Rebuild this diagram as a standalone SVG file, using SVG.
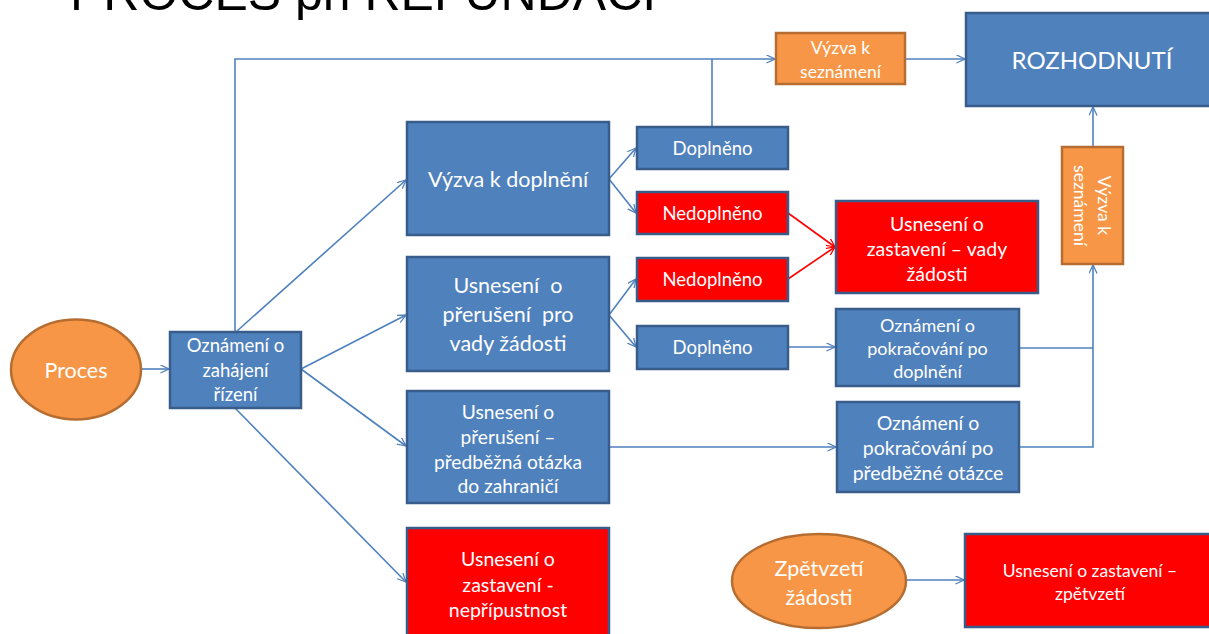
<svg xmlns="http://www.w3.org/2000/svg" width="1209" height="634" viewBox="0 0 1209 634">
  <defs>
    <marker id="arr" viewBox="0 0 10 10" refX="9.5" refY="5" markerWidth="9" markerHeight="9" markerUnits="userSpaceOnUse" orient="auto">
      <path d="M0,0.5 L9.5,5 L0,9.5" fill="none" stroke="#4F81BD" stroke-width="1.4"/>
    </marker>
    <marker id="arrRed" viewBox="0 0 10 10" refX="9.5" refY="5" markerWidth="9" markerHeight="9" markerUnits="userSpaceOnUse" orient="auto">
      <path d="M0,0.5 L9.5,5 L0,9.5" fill="none" stroke="#FF0000" stroke-width="1.4"/>
    </marker>
    <style>
      .blue { fill: #4F81BD; stroke: #385D8A; stroke-width: 2.5; }
      .red { fill: #FF0000; stroke: #385D8A; stroke-width: 2.5; }
      .orange { fill: #F79646; stroke: #B66D31; stroke-width: 2.5; }
      .t { fill: #FFFFFF; font-family: Lato, "Open Sans", "DejaVu Sans", sans-serif; text-anchor: middle; dominant-baseline: central; }
      .c { fill: none; stroke: #4F81BD; stroke-width: 1.6; }
      .cm { fill: none; stroke: #4F81BD; stroke-width: 1.6; marker-end: url(#arr); }
      .cr { fill: none; stroke: #FF0000; stroke-width: 1.6; marker-end: url(#arrRed); }
      .title { fill: #000000; font-family: "Liberation Sans", Arial, sans-serif; font-size: 50px; }
    </style>
  </defs>

  <rect width="1209" height="634" fill="#FFFFFF"/>

  <text class="title" x="70" y="10">PROCES při REFUNDACI</text>

  <!-- connectors -->
  <g id="connectors">
    <path class="cm" d="M141,369 L169,369"/>
    <path class="c" d="M235,332 L235,59 L712,59"/>
    <path class="c" d="M712,127 L712,59"/>
    <path class="cm" d="M712,59 L775,59"/>
    <path class="cm" d="M905,59 L965,59"/>
    <path class="cm" d="M237,331 L406,180"/>
    <path class="cm" d="M301,369 L406,315"/>
    <path class="cm" d="M301,369 L406,446"/>
    <path class="cm" d="M235,408 L406,582"/>
    <path class="cm" d="M609,179 L636,148"/>
    <path class="cm" d="M609,179 L636,213"/>
    <path class="cm" d="M609,315 L636,279"/>
    <path class="cm" d="M609,315 L636,347"/>
    <path class="cr" d="M788,213 L835,247"/>
    <path class="cr" d="M788,279 L835,247"/>
    <path class="cm" d="M788,347 L835,347"/>
    <path class="cm" d="M609,447 L836,447"/>
    <path class="c" d="M1019,348 L1093,348"/>
    <path class="c" d="M1019,447 L1093,447 L1093,348"/>
    <path class="cm" d="M1093,348 L1093,265"/>
    <path class="cm" d="M1093,147 L1093,107"/>
    <path class="cm" d="M906,580 L964,580"/>
  </g>

  <g id="proces">
    <ellipse class="orange" cx="76" cy="369.5" rx="65" ry="50"/>
    <text class="t" x="76" y="370" font-size="21.5">Proces</text>
  </g>

  <g id="oznameni-zahajeni">
    <rect class="blue" x="170" y="332" width="131" height="76"/>
    <text class="t" font-size="18.5" x="235.5"><tspan x="235.5" y="345">Oznámení o</tspan><tspan x="235.5" y="370">zahájení</tspan><tspan x="235.5" y="394">řízení</tspan></text>
  </g>

  <g id="vyzva-seznameni-top">
    <rect class="orange" x="776" y="33" width="129" height="51"/>
    <text class="t" font-size="17.5" x="840.5"><tspan x="840.5" y="47">Výzva k</tspan><tspan x="840.5" y="71">seznámení</tspan></text>
  </g>

  <g id="rozhodnuti">
    <rect class="blue" x="966" y="13" width="260" height="93"/>
    <text class="t" x="1092" y="59" font-size="24">ROZHODNUTÍ</text>
  </g>

  <g id="vyzva-doplneni">
    <rect class="blue" x="407" y="122" width="202" height="113"/>
    <text class="t" x="508" y="179" font-size="21.5">Výzva k doplnění</text>
  </g>

  <g id="doplneno-1">
    <rect class="blue" x="637" y="127" width="151" height="42"/>
    <text class="t" x="712.5" y="148" font-size="18.5">Doplněno</text>
  </g>

  <g id="nedoplneno-1">
    <rect class="red" x="637" y="192" width="151" height="42"/>
    <text class="t" x="712.5" y="213" font-size="18.5">Nedoplněno</text>
  </g>

  <g id="preruseni-vady">
    <rect class="blue" x="407" y="257" width="202" height="114"/>
    <text class="t" font-size="21.5" x="508" xml:space="preserve"><tspan x="508" y="285">Usnesení  o</tspan><tspan x="508" y="314">přerušení  pro</tspan><tspan x="508" y="343">vady žádosti</tspan></text>
  </g>

  <g id="nedoplneno-2">
    <rect class="red" x="637" y="258" width="151" height="43"/>
    <text class="t" x="712.5" y="279" font-size="18.5">Nedoplněno</text>
  </g>

  <g id="doplneno-2">
    <rect class="blue" x="637" y="326" width="151" height="43"/>
    <text class="t" x="712.5" y="347" font-size="18.5">Doplněno</text>
  </g>

  <g id="zastaveni-vady">
    <rect class="red" x="836" y="201" width="202" height="92"/>
    <text class="t" font-size="19.5" x="937"><tspan x="937" y="223">Usnesení o</tspan><tspan x="937" y="248">zastavení – vady</tspan><tspan x="937" y="273">žádosti</tspan></text>
  </g>

  <g id="pokracovani-doplneni">
    <rect class="blue" x="836" y="309" width="183" height="77"/>
    <text class="t" font-size="18" x="927.5"><tspan x="927.5" y="325">Oznámení o</tspan><tspan x="927.5" y="348">pokračování po</tspan><tspan x="927.5" y="371">doplnění</tspan></text>
  </g>

  <g id="vyzva-seznameni-side">
    <rect class="orange" x="1062" y="147" width="61" height="117"/>
    <g transform="translate(1092.5,205.5) rotate(90)">
      <text class="t" font-size="17.5" x="0"><tspan x="0" y="-12">Výzva k</tspan><tspan x="0" y="12">seznámení</tspan></text>
    </g>
  </g>

  <g id="preruseni-predbezna">
    <rect class="blue" x="407" y="391" width="202" height="112"/>
    <text class="t" font-size="19.2" x="508"><tspan x="508" y="411">Usnesení o</tspan><tspan x="508" y="436">přerušení –</tspan><tspan x="508" y="461">předběžná otázka</tspan><tspan x="508" y="485">do zahraničí</tspan></text>
  </g>

  <g id="pokracovani-predbezna">
    <rect class="blue" x="837" y="402" width="182" height="90"/>
    <text class="t" font-size="19.5" x="928"><tspan x="928" y="422">Oznámení o</tspan><tspan x="928" y="447">pokračování po</tspan><tspan x="928" y="472">předběžné otázce</tspan></text>
  </g>

  <g id="zastaveni-nepripustnost">
    <rect class="red" x="407" y="528" width="202" height="120"/>
    <text class="t" font-size="19.5" x="508"><tspan x="508" y="558">Usnesení o</tspan><tspan x="508" y="584">zastavení -</tspan><tspan x="508" y="609">nepřípustnost</tspan></text>
  </g>

  <g id="zpetvzeti">
    <ellipse class="orange" cx="819" cy="581" rx="87" ry="47"/>
    <text class="t" font-size="21.5" x="819"><tspan x="819" y="568">Zpětvzetí</tspan><tspan x="819" y="597">žádosti</tspan></text>
  </g>

  <g id="zastaveni-zpetvzeti">
    <rect class="red" x="965" y="534" width="260" height="93"/>
    <text class="t" font-size="17.5" x="1090"><tspan x="1090" y="570">Usnesení o zastavení –</tspan><tspan x="1090" y="593">zpětvzetí</tspan></text>
  </g>
</svg>
